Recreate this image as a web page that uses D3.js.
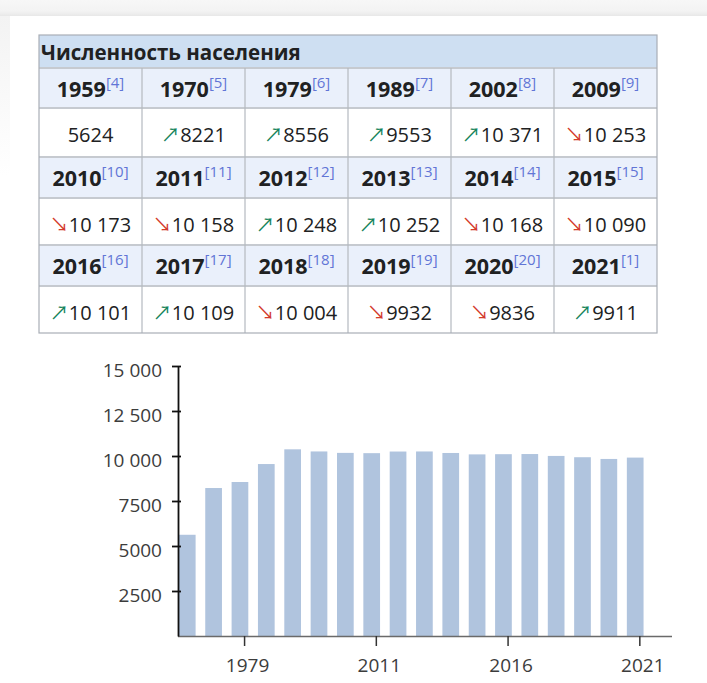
<!DOCTYPE html>
<html lang="ru">
<head>
<meta charset="utf-8">
<title>Численность населения</title>
<script src="https://cdn.jsdelivr.net/npm/d3@7"></script>
<style>
  body { margin: 0; background: #fff; }
  svg { display: block; font-family: "Open Sans", sans-serif; }
</style>
</head>
<body>
<script>
// data
var years = ["1959", "1970", "1979", "1989", "2002", "2009",
             "2010", "2011", "2012", "2013", "2014", "2015",
             "2016", "2017", "2018", "2019", "2020", "2021"];
var population = [5624, 8221, 8556, 9553, 10371, 10253,
                  10173, 10158, 10248, 10252, 10168, 10090,
                  10101, 10109, 10004, 9932, 9836, 9911];
var refs = ["4", "5", "6", "7", "8", "9", "10", "11", "12", "13",
            "14", "15", "16", "17", "18", "19", "20", "1"];
var yTicks = [2500, 5000, 7500, 10000, 12500, 15000];
var xTicks = ["1979", "2011", "2016", "2021"];
var title = "Численность населения";

var W = 707, H = 683;
var svg = d3.select("body").append("svg").attr("width", W).attr("height", H);

// page background (screenshot frame)
var defs = svg.append("defs");
var g1 = defs.append("linearGradient").attr("id", "topfade").attr("x1", 0).attr("x2", 0).attr("y1", 0).attr("y2", 1);
g1.append("stop").attr("offset", "0%").attr("stop-color", "#f7f7f7");
g1.append("stop").attr("offset", "70%").attr("stop-color", "#f3f3f3");
g1.append("stop").attr("offset", "100%").attr("stop-color", "#e8e8e8");
var g2 = defs.append("linearGradient").attr("id", "leftfade").attr("x1", 0).attr("x2", 0).attr("y1", 0).attr("y2", 1);
g2.append("stop").attr("offset", "0%").attr("stop-color", "#f3f3f3");
g2.append("stop").attr("offset", "100%").attr("stop-color", "#ffffff");
svg.append("rect").attr("width", W).attr("height", 16).attr("fill", "url(#topfade)");
svg.append("rect").attr("y", 16).attr("width", 10).attr("height", 160).attr("fill", "url(#leftfade)");

// ---- table ----
var tx = 39, colW = 103;
var rowsY = [68, 108, 157, 198, 245, 286, 333];
var table = svg.append("g");

table.append("rect").attr("x", tx).attr("y", 35).attr("width", colW * 6).attr("height", 33)
  .attr("fill", "#cedff2");
table.append("text").attr("x", tx + 2).attr("y", 60).text(title)
  .attr("font-weight", "bold").attr("font-size", "20.5px").attr("fill", "#202122");

var cells = years.map(function(y, i) {
  var block = Math.floor(i / 6);
  return { year: y, value: population[i], ref: refs[i], col: i % 6,
           prev: i > 0 ? population[i - 1] : null,
           yTop: rowsY[block * 2], yMid: rowsY[block * 2 + 1], yBot: rowsY[block * 2 + 2] };
});

// header row backgrounds
table.selectAll(".hbg").data([0, 1, 2]).enter().append("rect")
  .attr("x", tx).attr("y", function(d) { return rowsY[d * 2]; })
  .attr("width", colW * 6).attr("height", function(d) { return rowsY[d * 2 + 1] - rowsY[d * 2]; })
  .attr("fill", "#eaf0fb");

// year labels
var yl = table.selectAll(".yl").data(cells).enter().append("text")
  .attr("x", function(d) { return tx + d.col * colW + colW / 2; })
  .attr("y", function(d) { return d.yTop + 29; })
  .attr("text-anchor", "middle").attr("fill", "#202122");
yl.append("tspan").text(function(d) { return d.year; })
  .attr("font-weight", "bold").attr("font-size", "21.5px");
yl.append("tspan").text(function(d) { return "[" + d.ref + "]"; })
  .attr("dy", -9).attr("font-size", "15px").attr("fill", "#6175d6");

// values
var vl = table.selectAll(".vl").data(cells).enter().append("text")
  .attr("x", function(d) { return tx + d.col * colW + colW / 2; })
  .attr("y", function(d) { return d.yMid + 34; })
  .attr("text-anchor", "middle").attr("font-size", "20px").attr("fill", "#202122");
vl.append("tspan")
  .attr("font-family", "Noto Sans CJK JP").attr("font-size", "19px")
  .attr("fill", function(d) { return d.prev !== null && d.value > d.prev ? "#16845c" : "#d33a2c"; })
  .text(function(d) {
    if (d.prev === null) return "";
    return d.value > d.prev ? "↗" : "↘";
  });
vl.append("tspan").text(function(d) {
  return d.value >= 10000 ? String(d.value).replace(/(\d{2})(\d{3})$/, "$1 $2") : String(d.value);
});

// grid lines
table.selectAll(".hl").data(rowsY.slice(0, 6)).enter().append("line")
  .attr("x1", tx).attr("x2", tx + colW * 6)
  .attr("y1", function(d) { return d; }).attr("y2", function(d) { return d; })
  .attr("stroke", "#c6cad0").attr("stroke-width", 2);
table.selectAll(".vln").data([1, 2, 3, 4, 5]).enter().append("line")
  .attr("x1", function(d) { return tx + d * colW; }).attr("x2", function(d) { return tx + d * colW; })
  .attr("y1", 68).attr("y2", 333)
  .attr("stroke", "#b4b9c0").attr("stroke-width", 1.2);
table.append("rect").attr("x", tx).attr("y", 35).attr("width", colW * 6).attr("height", 333 - 35)
  .attr("fill", "none").attr("stroke", "#a9aeb6").attr("stroke-width", 1.2);

// ---- bar chart ----
var x0 = 178.7, step = 26.35;
var x = d3.scaleBand().domain(years).range([x0, x0 + step * years.length]).padding(0);
var y = d3.scaleLinear().domain([0, 15000]).range([636, 366]);

var fmt = function(v) {
  return v >= 10000 ? d3.format(",")(v).replace(",", " ") : String(v);
};

svg.selectAll(".bar").data(years).enter().append("rect")
  .attr("x", function(d) { return x(d) + 0.2; })
  .attr("y", function(d, i) { return y(population[i]); })
  .attr("width", 16.7)
  .attr("height", function(d, i) { return y(0) - y(population[i]); })
  .attr("fill", "#b0c4de");

// x axis
svg.append("line").attr("x1", 178).attr("x2", 672).attr("y1", 636.5).attr("y2", 636.5)
  .attr("stroke", "#6a6a6a").attr("stroke-width", 1.5);
var xa = svg.append("g").attr("transform", "translate(0,636)")
  .call(d3.axisBottom(x).tickValues(xTicks).tickSize(10).tickPadding(13));
xa.select(".domain").remove();
xa.selectAll("line").attr("stroke", "#333").attr("stroke-width", 1.5);
xa.selectAll("text").attr("font-family", "Open Sans").attr("font-size", "19px").attr("fill", "#3c3c3c")
  .attr("dx", 3);

// y axis
var ya = svg.append("g").attr("transform", "translate(178,0)")
  .call(d3.axisLeft(y).tickValues(yTicks.concat([0])).tickSize(6).tickSizeOuter(0).tickPadding(10).tickFormat(fmt));
ya.select(".domain").attr("stroke", "#111").attr("stroke-width", 1.8);
ya.selectAll(".tick").filter(function(d) { return d === 0; }).remove();
ya.selectAll(".tick line").attr("x1", 3).attr("stroke", "#111").attr("stroke-width", 1.8);
ya.selectAll("text").attr("font-family", "Open Sans").attr("font-size", "19px").attr("fill", "#3c3c3c")
  .attr("dy", "0.55em");
</script>
</body>
</html>
